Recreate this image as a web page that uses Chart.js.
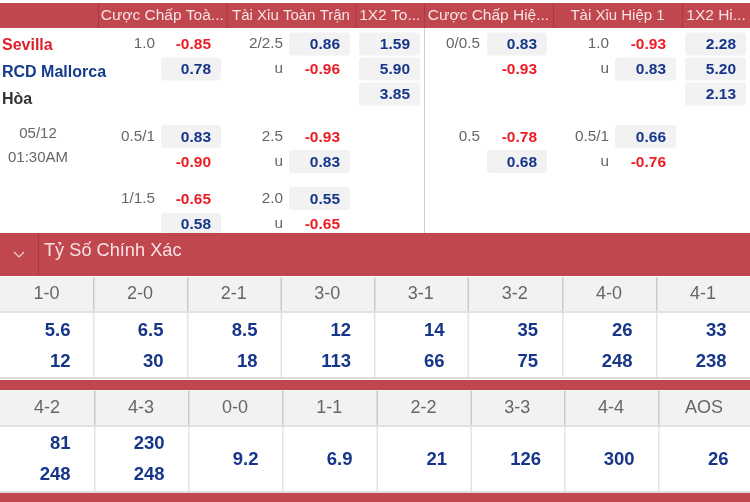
<!DOCTYPE html>
<html>
<head>
<meta charset="utf-8">
<style>
  html, body { margin: 0; padding: 0; background: #fff; }
  canvas { display: block; }
</style>
<script src="https://cdn.jsdelivr.net/npm/chart.js@4"></script>
</head>
<body>
<canvas id="oddsChart" width="750" height="502"></canvas>
<script>
// values
const marketHeaders = ['Cược Chấp Toà...', 'Tài Xỉu Toàn Trận', '1X2 To...', 'Cược Chấp Hiệ...', 'Tài Xỉu Hiệp 1', '1X2 Hi...'];
const teams = ['Sevilla', 'RCD Mallorca', 'Hòa'];
const kickoff = ['05/12', '01:30AM'];

const handicapFullLines = ['1.0', '0.5/1', '1/1.5'];
const handicapFullOdds = ['-0.85', '0.78', '0.83', '-0.90', '-0.65', '0.58'];
const totalsFullLines = ['2/2.5', '2.5', '2.0'];
const totalsFullOdds = ['0.86', '-0.96', '-0.93', '0.83', '0.55', '-0.65'];
const matchFullOdds = ['1.59', '5.90', '3.85'];
const handicapHalfLines = ['0/0.5', '0.5'];
const handicapHalfOdds = ['0.83', '-0.93', '-0.78', '0.68'];
const totalsHalfLines = ['1.0', '0.5/1'];
const totalsHalfOdds = ['-0.93', '0.83', '0.66', '-0.76'];
const matchHalfOdds = ['2.28', '5.20', '2.13'];

const scoreTitle = 'Tỷ Số Chính Xác';
const scoresTop = ['1-0', '2-0', '2-1', '3-0', '3-1', '3-2', '4-0', '4-1'];
const scoresTopFirst = ['5.6', '6.5', '8.5', '12', '14', '35', '26', '33'];
const scoresTopSecond = ['12', '30', '18', '113', '66', '75', '248', '238'];
const scoresBottom = ['4-2', '4-3', '0-0', '1-1', '2-2', '3-3', '4-4', 'AOS'];
const scoresBottomFirst = ['81', '230'];
const scoresBottomSecond = ['248', '248'];
const scoresBottomSingle = ['9.2', '6.9', '21', '126', '300', '26'];

// layout
const RED = '#c1474f';
const RED_DARK = '#a63a42';
const BLUE = '#17368a';
const ODD_RED = '#ec1c24';
const GREY_TEXT = '#666';
const HEAD_TEXT = '#f5e3e4';
const FONT = '"Liberation Sans", Arial, sans-serif';

const headerEdges = [98, 226.5, 355.5, 424, 553, 682, 750];
const chipLeft = [161, 289, 359, 487, 615, 685];
const chipRight = [221, 350, 420, 547, 676, 746];
const lineRight = [155, 283, null, 480, 609, null];
const rowCentres = [45, 70, 95, 137.5, 162.5, 199.5, 224.5];
const chipRows = [44, 69, 94, 136.5, 161.5, 198.5, 224.5];
const topColumns = [0, 93, 187, 280.5, 374, 467.5, 562, 656, 750];
const bottomColumns = [0, 94, 188, 282, 376.5, 470.5, 564, 658, 750];
const FULL_ROWS = [0, 1, 3, 4, 5, 6];
const HALF_ROWS = [0, 1, 3, 4];

const labelPoints = (texts, xs, ys) => texts.map((text, i) => ({ x: xs[i], y: ys[i], text }));
const repeat = (v, n) => new Array(n).fill(v);

const oddsPoints = (odds, col, rows) => odds.map((text, i) => ({
    x: chipRight[col] - 10,
    y: rowCentres[rows[i]],
    chipY: chipRows[rows[i]],
    col,
    text
}));
// the handicap line sits on the first row of a pair, "u" on the second
const linePoints = (lines, col, rows) => lines.map((text, i) => ({ x: lineRight[col], y: rowCentres[rows[i * 2]] - 1, text }));
const underPoints = (lines, col, rows) => lines.map((_, i) => ({ x: lineRight[col], y: rowCentres[rows[i * 2 + 1]] - 1, text: 'u' }));

const allOdds = [
    ...oddsPoints(handicapFullOdds, 0, FULL_ROWS),
    ...oddsPoints(totalsFullOdds, 1, FULL_ROWS),
    ...oddsPoints(matchFullOdds, 2, [0, 1, 2]),
    ...oddsPoints(handicapHalfOdds, 3, HALF_ROWS),
    ...oddsPoints(totalsHalfOdds, 4, HALF_ROWS),
    ...oddsPoints(matchHalfOdds, 5, [0, 1, 2])
];
const isNegative = p => p.text.startsWith('-');

const greyLines = [
    ...linePoints(handicapFullLines, 0, FULL_ROWS),
    ...linePoints(totalsFullLines, 1, FULL_ROWS),
    ...underPoints(totalsFullLines, 1, FULL_ROWS),
    ...linePoints(handicapHalfLines, 3, HALF_ROWS),
    ...linePoints(totalsHalfLines, 4, HALF_ROWS),
    ...underPoints(totalsHalfLines, 4, HALF_ROWS)
];

const colCentres = cols => cols.slice(0, -1).map((c, i) => (c + cols[i + 1]) / 2);
const colValues = (cols, from) => cols.slice(from, -1).map(c => c + 70.5);
const headerPoints = labelPoints(marketHeaders, colCentres(headerEdges), repeat(16, 6));

const datasets = [
    { points: headerPoints.filter(p => !p.text.startsWith('Tài')), font: '15.5px ' + FONT, color: HEAD_TEXT, align: 'center' },
    { points: headerPoints.filter(p => p.text.startsWith('Tài')), font: '15px ' + FONT, color: HEAD_TEXT, align: 'center' },
    { points: [{ x: 2, y: 45.5, text: teams[0] }], font: 'bold 16px ' + FONT, color: '#e0202a', align: 'left' },
    { points: [{ x: 2, y: 72.5, text: teams[1] }], font: 'bold 16px ' + FONT, color: '#153a8c', align: 'left' },
    { points: [{ x: 2, y: 99.5, text: teams[2] }], font: 'bold 16px ' + FONT, color: '#333', align: 'left' },
    { points: labelPoints(kickoff, [38, 38], [134, 157.5]), font: '15px ' + FONT, color: GREY_TEXT, align: 'center' },
    { points: greyLines, font: '15.3px ' + FONT, color: GREY_TEXT, align: 'right' },
    { points: allOdds.filter(p => !isNegative(p)), font: 'bold 15.5px ' + FONT, color: BLUE, align: 'right' },
    { points: allOdds.filter(isNegative), font: 'bold 15.5px ' + FONT, color: ODD_RED, align: 'right' },
    { points: [{ x: 44, y: 251, text: scoreTitle }], font: '18.2px ' + FONT, color: HEAD_TEXT, align: 'left' },
    { points: labelPoints(scoresTop, colCentres(topColumns), repeat(294.5, 8)), font: '18px ' + FONT, color: GREY_TEXT, align: 'center' },
    { points: labelPoints(scoresBottom, colCentres(bottomColumns), repeat(408, 8)), font: '18px ' + FONT, color: GREY_TEXT, align: 'center' },
    {
        points: [
            ...labelPoints(scoresTopFirst, colValues(topColumns, 0), repeat(331, 8)),
            ...labelPoints(scoresTopSecond, colValues(topColumns, 0), repeat(361.5, 8)),
            ...labelPoints(scoresBottomFirst, colValues(bottomColumns, 0), repeat(444, 2)),
            ...labelPoints(scoresBottomSecond, colValues(bottomColumns, 0), repeat(475, 2)),
            ...labelPoints(scoresBottomSingle, colValues(bottomColumns, 2), repeat(460, 6))
        ],
        font: 'bold 18.5px ' + FONT,
        color: BLUE,
        align: 'right'
    }
];

const tablePlugin = {
    id: 'oddsTable',
    beforeDatasetsDraw(chart) {
        const { ctx, scales: { x, y } } = chart;
        const rect = (x0, y0, x1, y1, fill) => {
            ctx.fillStyle = fill;
            ctx.fillRect(x.getPixelForValue(x0), y.getPixelForValue(y0), x.getPixelForValue(x1) - x.getPixelForValue(x0), y.getPixelForValue(y1) - y.getPixelForValue(y0));
        };

        // odds chips, positive prices only
        ctx.fillStyle = '#f2f2f2';
        allOdds.filter(p => !isNegative(p)).forEach(p => {
            ctx.beginPath();
            ctx.roundRect(x.getPixelForValue(chipLeft[p.col]), y.getPixelForValue(p.chipY - 11.5), chipRight[p.col] - chipLeft[p.col], 23, 3);
            ctx.fill();
        });

        // header band and dividers
        rect(0, 3, 750, 28, RED);
        headerEdges.slice(0, -1).forEach(e => rect(e, 3, e + 1, 28, RED_DARK));
        rect(424, 28, 425, 233, '#cfcfcf');

        // correct score band
        rect(0, 233, 750, 276, RED);
        rect(38, 233, 39, 276, RED_DARK);

        // score tables
        const scoreBlock = (cols, headTop, headBottom, bodyTop, bodyBottom) => {
            rect(0, headTop, 750, headBottom, '#f2f2f2');
            rect(0, headBottom, 750, bodyTop, '#e2e2e2');
            rect(0, bodyBottom, 750, bodyBottom + 2, '#dcdcdc');
            cols.slice(1, -1).forEach(c => {
                rect(c, headTop, c + 1.5, headBottom, '#cbcbcb');
                rect(c, bodyTop, c + 1.5, bodyBottom, '#e4e4e4');
            });
        };
        scoreBlock(topColumns, 277, 311, 313, 377);
        rect(0, 380, 750, 390, RED);
        scoreBlock(bottomColumns, 390.5, 425, 427, 491);
        rect(0, 493, 750, 502, RED);

        // chevron in the score band
        ctx.strokeStyle = '#eccfd1';
        ctx.lineWidth = 1.2;
        ctx.beginPath();
        ctx.moveTo(x.getPixelForValue(14), y.getPixelForValue(252));
        ctx.lineTo(x.getPixelForValue(19), y.getPixelForValue(257));
        ctx.lineTo(x.getPixelForValue(24), y.getPixelForValue(252));
        ctx.stroke();
    },
    afterDatasetsDraw(chart) {
        const { ctx } = chart;
        ctx.textBaseline = 'middle';
        chart.data.datasets.forEach((set, i) => {
            ctx.font = set.font;
            ctx.fillStyle = set.textColor;
            ctx.textAlign = set.textAlign;
            chart.getDatasetMeta(i).data.forEach((el, j) => {
                ctx.fillText(set.data[j].text, el.x, el.y);
            });
        });
    }
};

new Chart(document.getElementById('oddsChart'), {
    type: 'scatter',
    data: {
        datasets: datasets.map(d => ({
            data: d.points,
            pointRadius: 0,
            font: d.font,
            textColor: d.color,
            textAlign: d.align
        }))
    },
    options: {
        responsive: false,
        animation: false,
        layout: { padding: 0 },
        plugins: { legend: { display: false }, tooltip: { enabled: false } },
        scales: {
            x: { type: 'linear', display: false, min: 0, max: 750 },
            y: { type: 'linear', display: false, min: 0, max: 502, reverse: true }
        }
    },
    plugins: [tablePlugin]
});
</script>
</body>
</html>
